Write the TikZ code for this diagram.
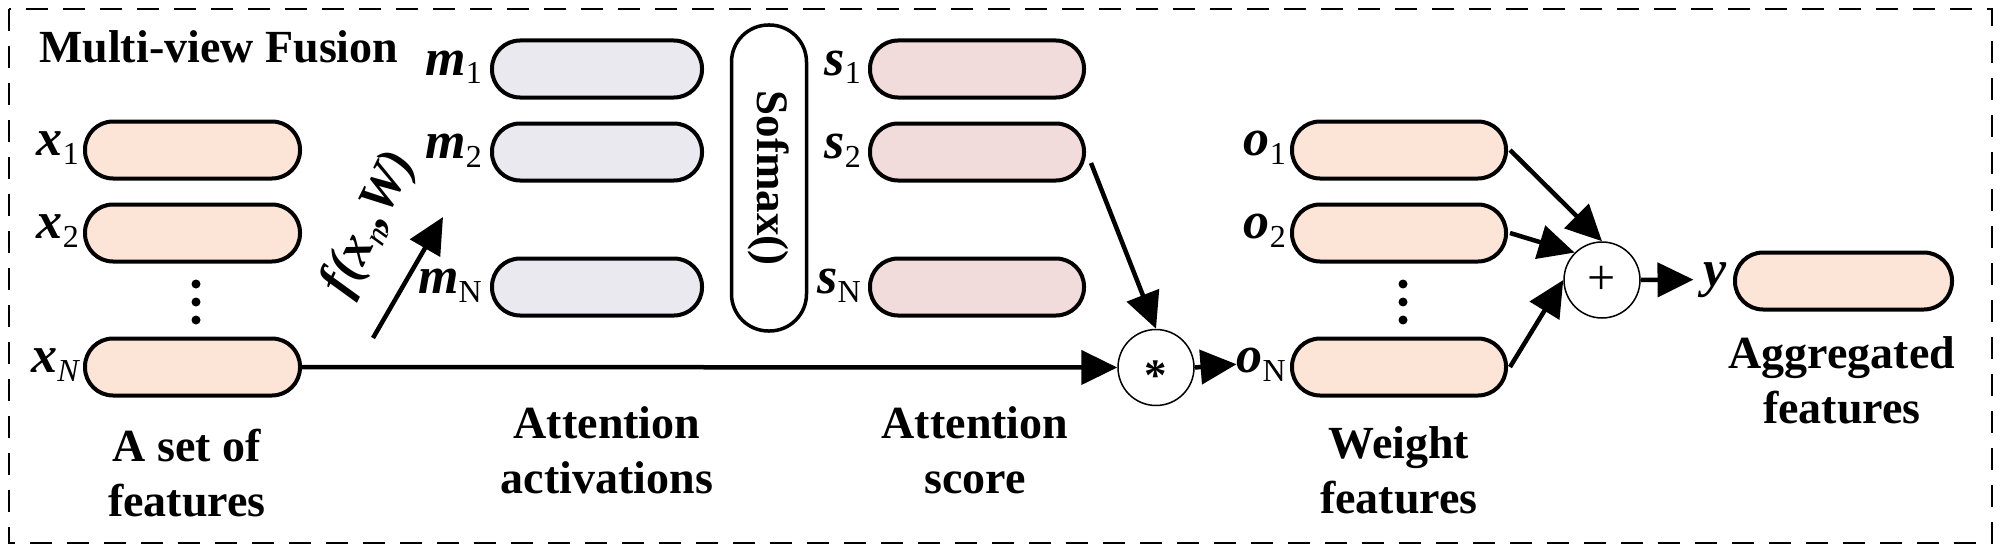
\documentclass[tikz,border=0pt]{standalone}
\usepackage{fontspec}
\setmainfont{Liberation Serif}
\usetikzlibrary{arrows.meta,calc}
\definecolor{peach}{HTML}{FCE4D6}
\definecolor{lav}{HTML}{E9E9EF}
\definecolor{pinkish}{HTML}{F2DCDB}
\newcommand\lsub[1]{\raisebox{-9pt}{\fontsize{32}{32}\selectfont\mdseries\upshape #1}}
\newcommand\lsubit[1]{\raisebox{-9pt}{\fontsize{32}{32}\selectfont\mdseries\itshape #1}}
\begin{document}
\begin{tikzpicture}[x=1pt,y=-1pt,
  featbox/.style={draw, line width=4pt, rounded corners=28pt, minimum width=214pt, minimum height=57pt, inner sep=0pt},
  lab/.style={anchor=base east, inner sep=0pt, font=\fontsize{52}{52}\selectfont\bfseries\itshape},
  caption/.style={anchor=north, align=center, inner sep=0pt, font=\fontsize{46}{55}\selectfont\bfseries},
  opcirc/.style={draw, circle, line width=1.5pt, minimum size=76pt, inner sep=0pt, fill=white},
  arr/.style={line width=4.5pt, -{Triangle[length=36pt,width=34pt]}},
  dotmark/.style={circle, fill=black, inner sep=0pt, minimum size=9pt}
]
\useasboundingbox (0,0) rectangle (2000,551);
\draw[line width=2.5pt, dash pattern=on 22pt off 15pt] (9,9) rectangle (1992,543);

\node[anchor=base west, inner sep=0pt, font=\fontsize{46}{46}\selectfont\bfseries] (title) at (39,63) {Multi-view Fusion};

% input features
\node[featbox, fill=peach, minimum width=215pt] (x1) at (192.5,150) {};
\node[featbox, fill=peach, minimum width=215pt] (x2) at (192.5,233) {};
\node[featbox, fill=peach, minimum width=215pt] (xN) at (192.5,367) {};
\node[lab] (lx1) at ([shift={(-4,5)}]x1.west) {x\lsub{1}};
\node[lab] (lx2) at ([shift={(-4,5)}]x2.west) {x\lsub{2}};
\node[lab] (lxN) at ([shift={(-4,5)}]xN.west) {x\lsubit{N}};
\node[dotmark] (xd1) at (196,284) {};
\node[dotmark] (xd2) at (196,302) {};
\node[dotmark] (xd3) at (196,320) {};

% activations
\node[featbox, fill=lav, minimum width=210pt] (m1) at (597,69) {};
\node[featbox, fill=lav, minimum width=210pt] (m2) at (597,152) {};
\node[featbox, fill=lav, minimum width=210pt] (mN) at (597,287) {};
\node[lab] (lm1) at ([shift={(-8,6)}]m1.west) {m\lsub{1}};
\node[lab] (lm2) at ([shift={(-8,6)}]m2.west) {m\lsub{2}};
\node[lab] (lmN) at ([shift={(-8,6)}]mN.west) {m\lsub{N}};

% softmax
\node[draw, line width=3.5pt, rounded corners=37pt, minimum width=306pt, minimum height=75pt,
      rotate=-90, inner sep=0pt, font=\fontsize{45}{45}\selectfont\bfseries] (soft) at (769,178) {Sofmax()};

% scores
\node[featbox, fill=pinkish] (s1) at (977,69) {};
\node[featbox, fill=pinkish] (s2) at (977,152) {};
\node[featbox, fill=pinkish] (sN) at (977,287) {};
\node[lab] (ls1) at ([shift={(-7,6)}]s1.west) {s\lsub{1}};
\node[lab] (ls2) at ([shift={(-7,6)}]s2.west) {s\lsub{2}};
\node[lab] (lsN) at ([shift={(-7,6)}]sN.west) {s\lsub{N}};

% multiply
\node[opcirc, font=\fontsize{45}{45}\selectfont\bfseries, text height=0pt, text depth=0pt] (star) at (1156,367.5) {\raisebox{-0.5em}{*}};

% weighted features
\node[featbox, fill=peach] (o1) at (1399,150) {};
\node[featbox, fill=peach] (o2) at (1399,233) {};
\node[featbox, fill=peach] (oN) at (1399,367) {};
\node[lab] (lo1) at ([shift={(-4,5)}]o1.west) {o\lsub{1}};
\node[lab] (lo2) at ([shift={(-4,5)}]o2.west) {o\lsub{2}};
\node[lab] (loN) at ([shift={(-4,5)}]oN.west) {o\lsub{N}};
\node[dotmark] (od1) at (1403,284) {};
\node[dotmark] (od2) at (1403,302) {};
\node[dotmark] (od3) at (1403,320) {};

% sum
\node[opcirc, font=\fontsize{50}{50}\selectfont] (plus) at (1602,280) {+};

% output
\node[featbox, fill=peach, minimum width=217pt] (yb) at (1843.5,281) {};
\node[lab] (ly) at ([shift={(-6,5)}]yb.west) {y};

% captions
\node[caption] (c1) at (187,429) {A set of\\features};
\node[caption] (c2) at (607,406) {Attention\\activations};
\node[caption] (c3) at (975,406) {Attention\\score};
\node[caption] (c4) at (1399,426) {Weight\\features};
\node[caption] (c5) at (1842,336) {Aggregated\\features};

% f arrow
\coordinate (fa) at (373,338);
\coordinate (fb) at (443,217);
\draw[arr] (fa) -- (fb);
\node[rotate=64, inner sep=0pt, font=\fontsize{52}{52}\selectfont\bfseries\itshape] (flab) at (370,224) {f(x\lsubit{n},W)};

% connectors
\draw[arr] (xN.east) -- (star.west);
\draw[arr] ([shift={(5,11)}]s2.east) -- (star.north);
\draw[arr] (star.east) -- (loN.west);
\draw[arr] ([xshift=2pt]o1.east) -- (plus.north);
\draw[arr] ([xshift=2pt]o2.east) -- (plus.135);
\draw[arr] ([xshift=2pt]oN.east) -- (plus.west);
\draw[arr] (plus.east) -- ([xshift=-10pt]ly.west);
\end{tikzpicture}
\end{document}
